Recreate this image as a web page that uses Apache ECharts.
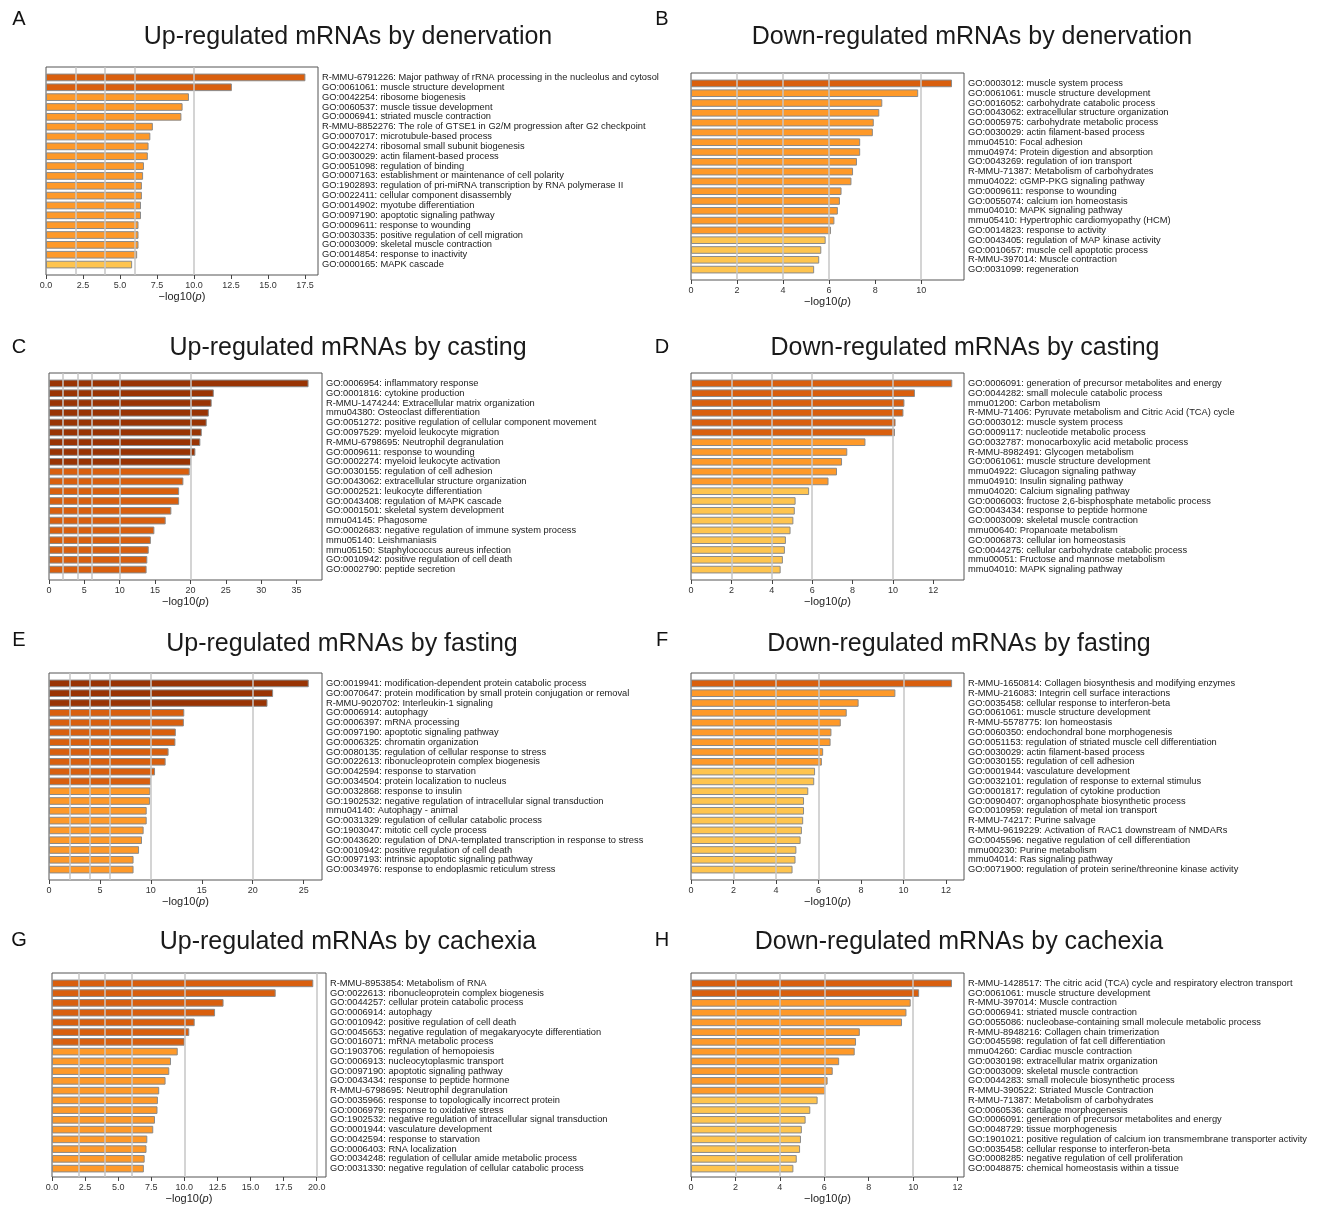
<!DOCTYPE html>
<html><head><meta charset="utf-8">
<script src="https://cdn.jsdelivr.net/npm/echarts@6/dist/echarts.min.js"></script>
<style>html,body{margin:0;padding:0;background:#fff}#c{width:1320px;height:1205px}</style>
</head><body><div id="c"></div>
<script>
// ---------- DATA ----------
const titles = [
  'Up-regulated mRNAs by denervation', 'Down-regulated mRNAs by denervation',
  'Up-regulated mRNAs by casting', 'Down-regulated mRNAs by casting',
  'Up-regulated mRNAs by fasting', 'Down-regulated mRNAs by fasting',
  'Up-regulated mRNAs by cachexia', 'Down-regulated mRNAs by cachexia'
];
const letters = ['A', 'B', 'C', 'D', 'E', 'F', 'G', 'H'];
const thresholdLines = [2, 4, 6, 10, 20];
const tickSteps = [2.5, 2, 5, 2, 5, 2, 2.5, 2];
const tickDecimals = [1, 0, 0, 0, 0, 0, 1, 0];
const axisMax = [18.38, 11.86, 38.6, 13.52, 26.8, 12.85, 20.7, 12.29];

const catA = [
  'R-MMU-6791226: Major pathway of rRNA processing in the nucleolus and cytosol',
  'GO:0061061: muscle structure development',
  'GO:0042254: ribosome biogenesis',
  'GO:0060537: muscle tissue development',
  'GO:0006941: striated muscle contraction',
  'R-MMU-8852276: The role of GTSE1 in G2/M progression after G2 checkpoint',
  'GO:0007017: microtubule-based process',
  'GO:0042274: ribosomal small subunit biogenesis',
  'GO:0030029: actin filament-based process',
  'GO:0051098: regulation of binding',
  'GO:0007163: establishment or maintenance of cell polarity',
  'GO:1902893: regulation of pri-miRNA transcription by RNA polymerase II',
  'GO:0022411: cellular component disassembly',
  'GO:0014902: myotube differentiation',
  'GO:0097190: apoptotic signaling pathway',
  'GO:0009611: response to wounding',
  'GO:0030335: positive regulation of cell migration',
  'GO:0003009: skeletal muscle contraction',
  'GO:0014854: response to inactivity',
  'GO:0000165: MAPK cascade'
];
const valA = [17.53, 12.56, 9.66, 9.23, 9.15, 7.22, 7.05, 6.93, 6.88, 6.62, 6.56, 6.48, 6.48, 6.42, 6.42, 6.25, 6.25, 6.25, 6.16, 5.82];

const catB = [
  'GO:0003012: muscle system process',
  'GO:0061061: muscle structure development',
  'GO:0016052: carbohydrate catabolic process',
  'GO:0043062: extracellular structure organization',
  'GO:0005975: carbohydrate metabolic process',
  'GO:0030029: actin filament-based process',
  'mmu04510: Focal adhesion',
  'mmu04974: Protein digestion and absorption',
  'GO:0043269: regulation of ion transport',
  'R-MMU-71387: Metabolism of carbohydrates',
  'mmu04022: cGMP-PKG signaling pathway',
  'GO:0009611: response to wounding',
  'GO:0055074: calcium ion homeostasis',
  'mmu04010: MAPK signaling pathway',
  'mmu05410: Hypertrophic cardiomyopathy (HCM)',
  'GO:0014823: response to activity',
  'GO:0043405: regulation of MAP kinase activity',
  'GO:0010657: muscle cell apoptotic process',
  'R-MMU-397014: Muscle contraction',
  'GO:0031099: regeneration'
];
const valB = [11.34, 9.87, 8.31, 8.18, 7.94, 7.90, 7.35, 7.35, 7.21, 7.04, 6.97, 6.54, 6.47, 6.38, 6.23, 6.08, 5.85, 5.66, 5.57, 5.35];

const catC = [
  'GO:0006954: inflammatory response',
  'GO:0001816: cytokine production',
  'R-MMU-1474244: Extracellular matrix organization',
  'mmu04380: Osteoclast differentiation',
  'GO:0051272: positive regulation of cellular component movement',
  'GO:0097529: myeloid leukocyte migration',
  'R-MMU-6798695: Neutrophil degranulation',
  'GO:0009611: response to wounding',
  'GO:0002274: myeloid leukocyte activation',
  'GO:0030155: regulation of cell adhesion',
  'GO:0043062: extracellular structure organization',
  'GO:0002521: leukocyte differentiation',
  'GO:0043408: regulation of MAPK cascade',
  'GO:0001501: skeletal system development',
  'mmu04145: Phagosome',
  'GO:0002683: negative regulation of immune system process',
  'mmu05140: Leishmaniasis',
  'mmu05150: Staphylococcus aureus infection',
  'GO:0010942: positive regulation of cell death',
  'GO:0002790: peptide secretion'
];
const valC = [36.7, 23.3, 23.0, 22.6, 22.3, 21.6, 21.4, 20.7, 20.1, 19.9, 19.0, 18.4, 18.4, 17.3, 16.5, 14.9, 14.4, 14.1, 13.9, 13.8];

const catD = [
  'GO:0006091: generation of precursor metabolites and energy',
  'GO:0044282: small molecule catabolic process',
  'mmu01200: Carbon metabolism',
  'R-MMU-71406: Pyruvate metabolism and Citric Acid (TCA) cycle',
  'GO:0003012: muscle system process',
  'GO:0009117: nucleotide metabolic process',
  'GO:0032787: monocarboxylic acid metabolic process',
  'R-MMU-8982491: Glycogen metabolism',
  'GO:0061061: muscle structure development',
  'mmu04922: Glucagon signaling pathway',
  'mmu04910: Insulin signaling pathway',
  'mmu04020: Calcium signaling pathway',
  'GO:0006003: fructose 2,6-bisphosphate metabolic process',
  'GO:0043434: response to peptide hormone',
  'GO:0003009: skeletal muscle contraction',
  'mmu00640: Propanoate metabolism',
  'GO:0006873: cellular ion homeostasis',
  'GO:0044275: cellular carbohydrate catabolic process',
  'mmu00051: Fructose and mannose metabolism',
  'mmu04010: MAPK signaling pathway'
];
const valD = [12.94, 11.09, 10.57, 10.52, 10.13, 10.10, 8.64, 7.74, 7.48, 7.23, 6.81, 5.85, 5.18, 5.14, 5.07, 4.93, 4.70, 4.65, 4.55, 4.44];

const catE = [
  'GO:0019941: modification-dependent protein catabolic process',
  'GO:0070647: protein modification by small protein conjugation or removal',
  'R-MMU-9020702: Interleukin-1 signaling',
  'GO:0006914: autophagy',
  'GO:0006397: mRNA processing',
  'GO:0097190: apoptotic signaling pathway',
  'GO:0006325: chromatin organization',
  'GO:0080135: regulation of cellular response to stress',
  'GO:0022613: ribonucleoprotein complex biogenesis',
  'GO:0042594: response to starvation',
  'GO:0034504: protein localization to nucleus',
  'GO:0032868: response to insulin',
  'GO:1902532: negative regulation of intracellular signal transduction',
  'mmu04140: Autophagy - animal',
  'GO:0031329: regulation of cellular catabolic process',
  'GO:1903047: mitotic cell cycle process',
  'GO:0043620: regulation of DNA-templated transcription in response to stress',
  'GO:0010942: positive regulation of cell death',
  'GO:0097193: intrinsic apoptotic signaling pathway',
  'GO:0034976: response to endoplasmic reticulum stress'
];
const valE = [25.5, 22.0, 21.45, 13.28, 13.24, 12.45, 12.41, 11.74, 11.45, 10.41, 10.0, 9.95, 9.92, 9.59, 9.59, 9.29, 9.13, 8.84, 8.30, 8.30];

const catF = [
  'R-MMU-1650814: Collagen biosynthesis and modifying enzymes',
  'R-MMU-216083: Integrin cell surface interactions',
  'GO:0035458: cellular response to interferon-beta',
  'GO:0061061: muscle structure development',
  'R-MMU-5578775: Ion homeostasis',
  'GO:0060350: endochondral bone morphogenesis',
  'GO:0051153: regulation of striated muscle cell differentiation',
  'GO:0030029: actin filament-based process',
  'GO:0030155: regulation of cell adhesion',
  'GO:0001944: vasculature development',
  'GO:0032101: regulation of response to external stimulus',
  'GO:0001817: regulation of cytokine production',
  'GO:0090407: organophosphate biosynthetic process',
  'GO:0010959: regulation of metal ion transport',
  'R-MMU-74217: Purine salvage',
  'R-MMU-9619229: Activation of RAC1 downstream of NMDARs',
  'GO:0045596: negative regulation of cell differentiation',
  'mmu00230: Purine metabolism',
  'mmu04014: Ras signaling pathway',
  'GO:0071900: regulation of protein serine/threonine kinase activity'
];
const valF = [12.29, 9.62, 7.89, 7.33, 7.05, 6.61, 6.57, 6.22, 6.16, 5.84, 5.80, 5.52, 5.32, 5.32, 5.28, 5.22, 5.16, 4.96, 4.92, 4.78];

const catG = [
  'R-MMU-8953854: Metabolism of RNA',
  'GO:0022613: ribonucleoprotein complex biogenesis',
  'GO:0044257: cellular protein catabolic process',
  'GO:0006914: autophagy',
  'GO:0010942: positive regulation of cell death',
  'GO:0045653: negative regulation of megakaryocyte differentiation',
  'GO:0016071: mRNA metabolic process',
  'GO:1903706: regulation of hemopoiesis',
  'GO:0006913: nucleocytoplasmic transport',
  'GO:0097190: apoptotic signaling pathway',
  'GO:0043434: response to peptide hormone',
  'R-MMU-6798695: Neutrophil degranulation',
  'GO:0035966: response to topologically incorrect protein',
  'GO:0006979: response to oxidative stress',
  'GO:1902532: negative regulation of intracellular signal transduction',
  'GO:0001944: vasculature development',
  'GO:0042594: response to starvation',
  'GO:0006403: RNA localization',
  'GO:0034248: regulation of cellular amide metabolic process',
  'GO:0031330: negative regulation of cellular catabolic process'
];
const valG = [19.74, 16.9, 12.96, 12.32, 10.78, 10.37, 10.02, 9.5, 8.99, 8.86, 8.58, 8.10, 8.0, 7.97, 7.78, 7.65, 7.2, 7.14, 7.0, 6.94];

const catH = [
  'R-MMU-1428517: The citric acid (TCA) cycle and respiratory electron transport',
  'GO:0061061: muscle structure development',
  'R-MMU-397014: Muscle contraction',
  'GO:0006941: striated muscle contraction',
  'GO:0055086: nucleobase-containing small molecule metabolic process',
  'R-MMU-8948216: Collagen chain trimerization',
  'GO:0045598: regulation of fat cell differentiation',
  'mmu04260: Cardiac muscle contraction',
  'GO:0030198: extracellular matrix organization',
  'GO:0003009: skeletal muscle contraction',
  'GO:0044283: small molecule biosynthetic process',
  'R-MMU-390522: Striated Muscle Contraction',
  'R-MMU-71387: Metabolism of carbohydrates',
  'GO:0060536: cartilage morphogenesis',
  'GO:0006091: generation of precursor metabolites and energy',
  'GO:0048729: tissue morphogenesis',
  'GO:1901021: positive regulation of calcium ion transmembrane transporter activity',
  'GO:0035458: cellular response to interferon-beta',
  'GO:0008285: negative regulation of cell proliferation',
  'GO:0048875: chemical homeostasis within a tissue'
];
const valH = [11.75, 10.27, 9.89, 9.70, 9.50, 7.60, 7.43, 7.37, 6.67, 6.38, 6.15, 6.04, 5.70, 5.37, 5.16, 4.99, 4.95, 4.91, 4.76, 4.61];

const allCats = [catA, catB, catC, catD, catE, catF, catG, catH];
const allVals = [valA, valB, valC, valD, valE, valF, valG, valH];

// ---------- LAYOUT / STYLE ----------
const boxes = [ // [left, top, width, height] of each plot frame
  [46, 67, 272, 208], [691, 73, 273, 207],
  [49, 373, 273, 207], [691, 373, 273, 207],
  [49, 673, 273, 207], [691, 673, 273, 207],
  [52, 973, 274, 206], [691, 973, 273, 206]
];
const titlePos = [[348, 37], [972, 37], [348, 348], [965, 348], [342, 644], [959, 644], [348, 942], [959, 942]];
const letterPos = [[19, 19], [662, 19], [19, 347], [662, 347], [19, 640], [662, 640], [19, 940], [662, 940]];
const FONT = '"Liberation Sans", Arial, Helvetica, sans-serif';

function colorFor(v) {
  if (v >= 20) return '#993404';
  if (v >= 10) return '#d95f0e';
  if (v >= 6) return '#fe9929';
  return '#fec44f';
}

const grid = [], xAxis = [], yAxis = [], series = [], graphics = [];
for (let i = 0; i < 8; i++) {
  const [l, t, w, h] = boxes[i];
  const pad = 5.5;
  // frame grid
  grid.push({left: l, top: t, width: w, height: h, show: true, borderColor: '#555', borderWidth: 1, backgroundColor: 'transparent'});
  // data grid
  grid.push({left: l, top: t + pad, width: w, height: h - 2 * pad, show: false});
  const dec = tickDecimals[i];
  xAxis.push({
    gridIndex: 2 * i, type: 'value', min: 0, max: axisMax[i], interval: tickSteps[i],
    axisLine: {show: false},
    axisTick: {show: true, length: 4, lineStyle: {color: '#444', width: 1}},
    splitLine: {show: false},
    axisLabel: {fontSize: 9, color: '#333', margin: 6, showMaxLabel: false, fontFamily: FONT,
      formatter: v => v.toFixed(dec)},
    name: '\u2212log10({i|p})', nameLocation: 'middle', nameGap: 16,
    nameTextStyle: {fontSize: 11, color: '#222', fontFamily: FONT,
      rich: {i: {fontStyle: 'italic', fontSize: 11, color: '#222', fontFamily: FONT}}}
  });
  xAxis.push({gridIndex: 2 * i + 1, type: 'value', min: 0, max: axisMax[i], show: false});
  yAxis.push({gridIndex: 2 * i, type: 'value', min: 0, max: 1, show: false});
  yAxis.push({
    gridIndex: 2 * i + 1, type: 'category', data: allCats[i], inverse: true, position: 'right',
    axisLine: {show: false}, axisTick: {show: false},
    axisLabel: {interval: 0, fontSize: 9.3, color: '#1a1a1a', margin: 4, fontFamily: FONT}
  });
  series.push({
    type: 'line', xAxisIndex: 2 * i, yAxisIndex: 2 * i, data: [], z: 1, silent: true,
    markLine: {
      silent: true, symbol: ['none', 'none'], animation: false,
      label: {show: false},
      lineStyle: {color: '#c6c6c6', width: 1.5, type: 'solid'},
      data: thresholdLines.filter(x => x < axisMax[i]).map(x => ({xAxis: x}))
    }
  });
  series.push({
    type: 'bar', xAxisIndex: 2 * i + 1, yAxisIndex: 2 * i + 1, z: 3,
    barCategoryGap: '22%',
    itemStyle: {borderColor: '#8a8a8a', borderWidth: 1},
    data: allVals[i].map(v => ({value: v, itemStyle: {color: colorFor(v)}}))
  });
  graphics.push({type: 'text', x: titlePos[i][0], y: titlePos[i][1],
    style: {text: titles[i], fontSize: 25, fontFamily: FONT, fill: '#1a1a1a', textAlign: 'center', textVerticalAlign: 'middle'}});
  graphics.push({type: 'text', x: letterPos[i][0], y: letterPos[i][1],
    style: {text: letters[i], fontSize: 20, fontFamily: FONT, fill: '#111', textAlign: 'center', textVerticalAlign: 'middle'}});
}

const chart = echarts.init(document.getElementById('c'), null, {renderer: 'canvas'});
chart.setOption({
  animation: false,
  backgroundColor: '#fff',
  textStyle: {fontFamily: FONT},
  grid, xAxis, yAxis, series,
  graphic: {elements: graphics}
});
</script>
</body></html>
